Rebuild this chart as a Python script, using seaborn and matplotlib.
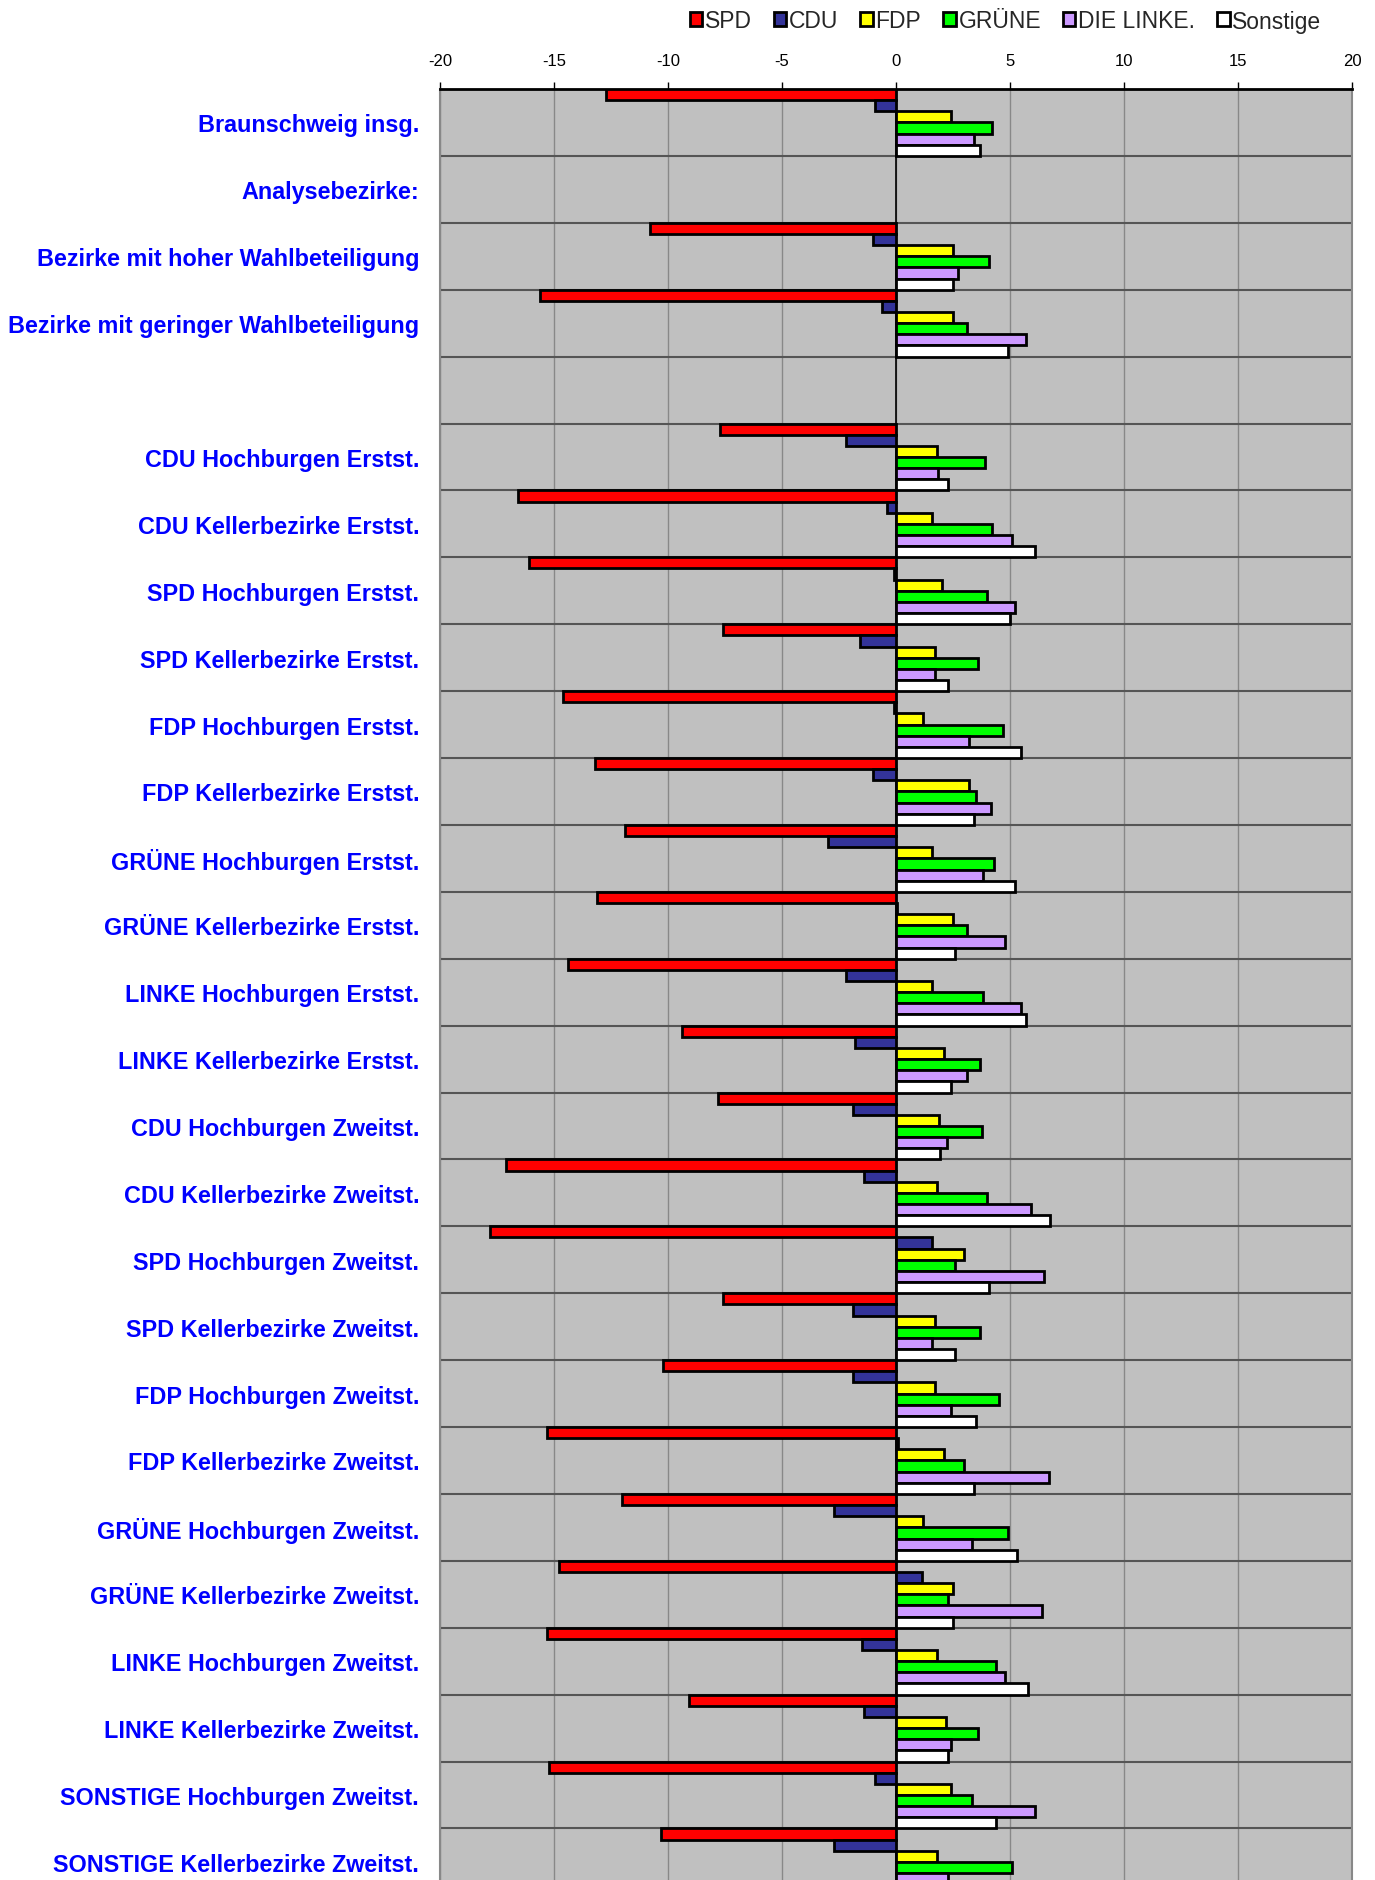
import seaborn as sns
import matplotlib.pyplot as plt
import numpy as np
import pandas as pd

# Veränderung der Stimmenanteile (Prozentpunkte)
labels = ["Braunschweig insg.", "Analysebezirke:", "Bezirke mit hoher Wahlbeteiligung",
          "Bezirke mit geringer Wahlbeteiligung", " ",
          "CDU Hochburgen Erstst.", "CDU Kellerbezirke Erstst.",
          "SPD Hochburgen Erstst.", "SPD Kellerbezirke Erstst.",
          "FDP Hochburgen Erstst.", "FDP Kellerbezirke Erstst.",
          "GRÜNE Hochburgen Erstst.", "GRÜNE Kellerbezirke Erstst.",
          "LINKE Hochburgen Erstst.", "LINKE Kellerbezirke Erstst.",
          "CDU Hochburgen Zweitst.", "CDU Kellerbezirke Zweitst.",
          "SPD Hochburgen Zweitst.", "SPD Kellerbezirke Zweitst.",
          "FDP Hochburgen Zweitst.", "FDP Kellerbezirke Zweitst.",
          "GRÜNE Hochburgen Zweitst.", "GRÜNE Kellerbezirke Zweitst.",
          "LINKE Hochburgen Zweitst.", "LINKE Kellerbezirke Zweitst.",
          "SONSTIGE Hochburgen Zweitst.", "SONSTIGE Kellerbezirke Zweitst."]
parties = ["SPD", "CDU", "FDP", "GRÜNE", "DIE LINKE.", "Sonstige"]
colors = ["#FF0000", "#333399", "#FFFF00", "#00FF00", "#CC99FF", "#FFFFFF"]

# rows without bars: "Analysebezirke:" and the blank row
spd = [-12.7, None, -10.8, -15.6, None, -7.7, -16.6, -16.1, -7.6, -14.6, -13.2, -11.9, -13.1,
       -14.4, -9.4, -7.8, -17.1, -17.8, -7.6, -10.2, -15.3, -12.0, -14.8, -15.3, -9.1, -15.2, -10.3]
cdu = [-0.9, None, -1.0, -0.6, None, -2.2, -0.4, -0.1, -1.6, -0.08, -1.0, -3.0, 0.05,
       -2.2, -1.8, -1.9, -1.4, 1.6, -1.9, -1.9, 0.1, -2.7, 1.15, -1.5, -1.4, -0.9, -2.7]
fdp = [2.4, None, 2.5, 2.5, None, 1.8, 1.6, 2.0, 1.7, 1.2, 3.2, 1.6, 2.5,
       1.6, 2.1, 1.9, 1.8, 3.0, 1.7, 1.7, 2.1, 1.2, 2.5, 1.8, 2.2, 2.4, 1.8]
gruene = [4.2, None, 4.1, 3.1, None, 3.9, 4.2, 4.0, 3.6, 4.7, 3.5, 4.3, 3.1,
          3.8, 3.7, 3.75, 4.0, 2.6, 3.7, 4.5, 3.0, 4.9, 2.3, 4.4, 3.6, 3.35, 5.1]
linke = [3.4, None, 2.7, 5.7, None, 1.85, 5.1, 5.2, 1.7, 3.2, 4.15, 3.8, 4.8,
         5.5, 3.1, 2.25, 5.9, 6.5, 1.6, 2.4, 6.7, 3.35, 6.4, 4.8, 2.4, 6.1, 2.3]
sonstige = [3.7, None, 2.5, 4.9, None, 2.3, 6.1, 5.0, 2.3, 5.5, 3.4, 5.2, 2.6,
            5.7, 2.4, 1.95, 6.75, 4.1, 2.6, 3.5, 3.4, 5.3, 2.5, 5.8, 2.3, 4.4, 3.0]

series = [spd, cdu, fdp, gruene, linke, sonstige]
rows = []
for party, vals in zip(parties, series):
    for lab, v in zip(labels, vals):
        if v is not None:
            rows.append({"Gebiet": lab, "Partei": party, "Wert": v})
df = pd.DataFrame(rows)

sns.set_style("white", {"axes.facecolor": "#C0C0C0"})
plt.rcParams["font.family"] = ["Liberation Sans", "DejaVu Sans"]
plt.rcParams["axes.unicode_minus"] = False

fig = plt.figure(figsize=(13.75, 18.81), dpi=100)
row_h = 66.9
n = len(labels)
ax_h = row_h * n
ax = fig.add_axes([440 / 1375, (1881 - 90 - ax_h) / 1881, 912 / 1375, ax_h / 1881])

sns.barplot(data=df, x="Wert", y="Gebiet", hue="Partei", order=labels, hue_order=parties,
            palette=colors, saturation=1, orient="h", width=1.0, errorbar=None,
            edgecolor="black", linewidth=2, ax=ax, zorder=3)

ax.set_xlim(-20, 20)
ax.set_ylim(n - 0.5, -0.5)
ax.set_xticks(np.arange(-20, 21, 5))
ax.xaxis.tick_top()
ax.tick_params(axis="x", direction="out", length=5, width=1, colors="black",
               labelsize=12, pad=10)
ax.set_yticks(np.arange(n))
ax.set_yticks(np.arange(n + 1) - 0.5, minor=True)
ax.set_yticklabels(labels, color="#0000FF", fontweight="bold", fontsize=16.8)
ax.tick_params(axis="y", which="both", length=0, pad=15)
ax.set_xlabel("")
ax.set_ylabel("")

ax.grid(axis="x", color="#888888", linewidth=1, zorder=0)
ax.grid(axis="y", which="minor", color="#555555", linewidth=1.5, zorder=1)
ax.grid(axis="y", which="major", visible=False)
ax.axvline(0, color="black", linewidth=1.2, zorder=2)
ax.set_axisbelow(True)

ax.spines["top"].set_color("black")
ax.spines["top"].set_linewidth(2)
for side in ["left", "right", "bottom"]:
    ax.spines[side].set_color("#888888")
    ax.spines[side].set_linewidth(1.5)

ax.legend(loc="center right", bbox_to_anchor=(1342 / 1375, 1 - 22 / 1881),
          bbox_transform=fig.transFigure, ncol=6, frameon=False, fontsize=16.5,
          handlelength=0.55, handleheight=0.55, handletextpad=0.12, columnspacing=0.95)

fig.savefig("out.png", dpi=100)
